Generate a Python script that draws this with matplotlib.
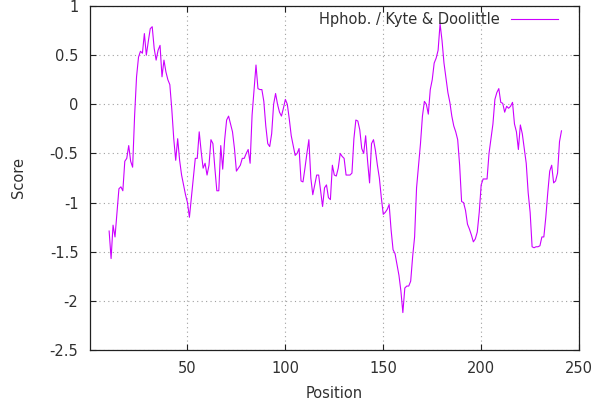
import matplotlib
matplotlib.use("Agg")
import matplotlib.pyplot as plt
import numpy as np

# hydrophobicity profile, window centred positions 10..241
positions = np.arange(10, 242)
scores = [
    -1.29, -1.57, -1.23, -1.35, -1.10, -0.86, -0.84, -0.88, -0.58, -0.55,   # 10
    -0.42, -0.58, -0.64, -0.12, 0.28, 0.48, 0.54, 0.52, 0.72, 0.50,         # 20
    0.64, 0.77, 0.79, 0.57, 0.45, 0.55, 0.60, 0.28, 0.45, 0.33,             # 30
    0.25, 0.20, -0.05, -0.35, -0.57, -0.35, -0.57, -0.72, -0.82, -0.92,     # 40
    -1.00, -1.15, -0.95, -0.75, -0.55, -0.55, -0.28, -0.48, -0.65, -0.60,   # 50
    -0.72, -0.62, -0.36, -0.40, -0.65, -0.88, -0.88, -0.42, -0.66, -0.36,   # 60
    -0.16, -0.12, -0.20, -0.28, -0.45, -0.68, -0.65, -0.62, -0.55, -0.55,   # 70
    -0.50, -0.46, -0.60, -0.11, 0.15, 0.40, 0.16, 0.15, 0.15, 0.03,         # 80
    -0.22, -0.40, -0.43, -0.30, 0.00, 0.11, 0.00, -0.08, -0.12, -0.04,      # 90
    0.05, 0.00, -0.15, -0.32, -0.42, -0.52, -0.50, -0.45, -0.78, -0.79,     # 100
    -0.65, -0.50, -0.36, -0.75, -0.92, -0.82, -0.72, -0.72, -0.88, -1.04,   # 110
    -0.85, -0.82, -0.95, -0.97, -0.62, -0.72, -0.73, -0.65, -0.50, -0.53,   # 120
    -0.55, -0.72, -0.72, -0.72, -0.70, -0.35, -0.16, -0.17, -0.26, -0.45,   # 130
    -0.50, -0.32, -0.58, -0.80, -0.40, -0.36, -0.47, -0.62, -0.75, -0.95,   # 140
    -1.12, -1.10, -1.07, -1.02, -1.28, -1.48, -1.52, -1.63, -1.74, -1.90,   # 150
    -2.12, -1.87, -1.85, -1.85, -1.80, -1.55, -1.35, -0.85, -0.62, -0.40,   # 160
    -0.12, 0.03, 0.00, -0.10, 0.15, 0.25, 0.42, 0.47, 0.55, 0.82,           # 170
    0.65, 0.42, 0.27, 0.12, 0.02, -0.12, -0.22, -0.28, -0.36, -0.62,        # 180
    -0.99, -1.00, -1.08, -1.22, -1.27, -1.33, -1.40, -1.37, -1.30, -1.10,   # 190
    -0.82, -0.76, -0.76, -0.76, -0.50, -0.35, -0.20, 0.05, 0.12, 0.16,      # 200
    0.02, 0.01, -0.08, -0.02, -0.04, -0.02, 0.02, -0.20, -0.28, -0.46,      # 210
    -0.21, -0.30, -0.45, -0.60, -0.90, -1.10, -1.45, -1.46, -1.45, -1.45,   # 220
    -1.44, -1.35, -1.35, -1.15, -0.90, -0.68, -0.62, -0.80, -0.78, -0.70,   # 230
    -0.38, -0.27,                                                           # 240
]
xticks = [50, 100, 150, 200, 250]
yticks = [-2.5, -2, -1.5, -1, -0.5, 0, 0.5, 1]
ylabels = ["-2.5", "-2", "-1.5", "-1", "-0.5", "0", "0.5", "1"]

plt.rcParams['font.family'] = 'DejaVu Sans'
plt.rcParams['font.size'] = 10.5

fig = plt.figure(figsize=(5.97, 4.05), dpi=100)
ax = fig.add_axes([0.150, 0.136, 0.820, 0.849])

ax.plot(positions, scores, color='#cc00ff', lw=0.8,
        label='Hphob. / Kyte & Doolittle')

ax.set_xlim(0, 250)
ax.set_ylim(-2.5, 1)
ax.set_xticks(xticks)
ax.set_yticks(yticks)
ax.set_yticklabels(ylabels)
ax.grid(True, color='#a0a0a0', ls=(0, (1, 3)), lw=0.8)
ax.tick_params(direction='in', length=4.3, width=0.8, top=True, right=True,
               pad=8, colors='#202020', labelcolor='#303030')
for s in ax.spines.values():
    s.set_linewidth(0.9)
    s.set_color('#202020')

ax.set_xlabel('Position', color='#303030', labelpad=7)
ax.set_ylabel('Score', color='#303030', labelpad=17)

leg = ax.legend(loc='upper right', bbox_to_anchor=(0.971, 1.005),
                frameon=False, markerfirst=False,
                handlelength=3.2, handletextpad=0.8, borderaxespad=0.2,
                borderpad=0.3)
for t in leg.get_texts():
    t.set_color('#303030')

fig.savefig('out.png', dpi=100)
